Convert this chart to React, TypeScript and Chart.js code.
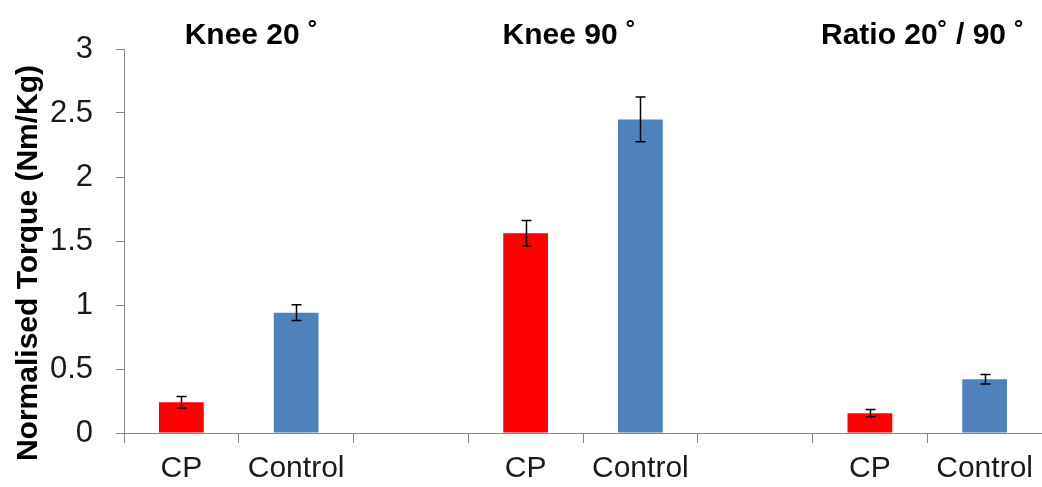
import React, { useEffect, useRef } from "react";
import { Chart, registerables } from "chart.js";

Chart.register(...registerables);

const categories = ["CP", "Control", "", "CP", "Control", "", "CP", "Control"];
const torqueValues = [0.24, 0.94, null, 1.56, 2.45, null, 0.155, 0.42];
const torqueErrors = [0.045, 0.062, null, 0.1, 0.175, null, 0.028, 0.038];
const barColors = ["#ff0000", "#4f81bd", "#ffffff", "#ff0000", "#4f81bd", "#ffffff", "#ff0000", "#4f81bd"];
const groupTitles = ["Knee 20 \u02DA", "Knee 90 \u02DA", "Ratio 20\u02DA / 90 \u02DA"];
const yTickValues = [0, 0.5, 1, 1.5, 2, 2.5, 3];
const yAxisTitle = "Normalised Torque (Nm/Kg)";

const FONT = "'Liberation Sans', Arial, sans-serif";
const AXIS_COLOR = "#868686";

export default function App() {
  const ref = useRef<HTMLCanvasElement | null>(null);

  useEffect(() => {
    if (!ref.current) return;
    const titleAnchors = [0.61, 3.38, 6.46];

    const errorBars = {
      id: "errorBars",
      afterDatasetsDraw(chart: any) {
        const ctx = chart.ctx;
        const meta = chart.getDatasetMeta(0);
        const y = chart.scales.y;
        ctx.save();
        ctx.strokeStyle = "#000000";
        ctx.lineWidth = 1.5;
        meta.data.forEach((bar: any, i: number) => {
          const v = torqueValues[i];
          const e = torqueErrors[i];
          if (v == null || e == null) return;
          const x = Math.round(bar.x) + 0.5;
          const yt = y.getPixelForValue(v + e);
          const yb = y.getPixelForValue(v - e);
          ctx.beginPath();
          ctx.moveTo(x, yt);
          ctx.lineTo(x, yb);
          ctx.moveTo(x - 5, yt);
          ctx.lineTo(x + 5, yt);
          ctx.moveTo(x - 5, yb);
          ctx.lineTo(x + 5, yb);
          ctx.stroke();
        });
        ctx.restore();
      },
    };

    const texts = {
      id: "texts",
      afterDraw(chart: any) {
        const ctx = chart.ctx;
        const xs = chart.scales.x;
        const area = chart.chartArea;
        ctx.save();
        ctx.fillStyle = "#000000";
        ctx.font = `bold 30px ${FONT}`;
        ctx.textAlign = "center";
        ctx.textBaseline = "alphabetic";
        groupTitles.forEach((t, i) => {
          ctx.fillText(t, xs.getPixelForValue(titleAnchors[i]), area.top - 5);
        });
        ctx.translate(29, (area.top + area.bottom) / 2 + 22);
        ctx.rotate(-Math.PI / 2);
        ctx.textBaseline = "middle";
        ctx.fillText(yAxisTitle, 0, 0);
        ctx.restore();
      },
    };

    const chart = new Chart(ref.current, {
      type: "bar",
      data: {
        labels: categories,
        datasets: [
          {
            data: torqueValues as any,
            backgroundColor: barColors,
            borderWidth: 0,
            barPercentage: 0.39,
            categoryPercentage: 1,
          },
        ],
      },
      options: {
        animation: false,
        responsive: false,
        layout: { padding: { top: 49, left: 0, right: 0, bottom: 0 } },
        plugins: { legend: { display: false }, tooltip: { enabled: false }, title: { display: false } },
        scales: {
          x: {
            offset: true,
            grid: {
              display: true,
              offset: true,
              drawOnChartArea: false,
              drawTicks: true,
              tickLength: 10,
              color: AXIS_COLOR,
            },
            border: { display: true, color: AXIS_COLOR, width: 1 },
            ticks: {
              color: "#1a1a1a",
              font: { family: FONT, size: 30 },
              padding: 8,
              maxRotation: 0,
              autoSkip: false,
            },
            afterFit(scale: any) {
              scale.height = 54;
            },
          },
          y: {
            min: 0,
            max: 3,
            afterBuildTicks(scale: any) {
              scale.ticks = yTickValues.map((v) => ({ value: v }));
            },
            grid: {
              display: true,
              drawOnChartArea: false,
              drawTicks: true,
              tickLength: 8,
              color: AXIS_COLOR,
            },
            border: { display: true, color: AXIS_COLOR, width: 1 },
            ticks: {
              color: "#1a1a1a",
              font: { family: FONT, size: 31 },
              padding: 23,
              callback: (value: any) => String(Number(value)),
            },
            afterFit(scale: any) {
              scale.width = 124;
            },
          },
        },
      },
      plugins: [errorBars, texts],
    });
    return () => chart.destroy();
  }, []);

  return (
    <div style={{ position: "fixed", left: 0, top: 0, width: 1042, height: 487, background: "#ffffff", overflow: "hidden" }}>
      <canvas ref={ref} width={1042} height={487} style={{ display: "block" }} />
    </div>
  );
}
